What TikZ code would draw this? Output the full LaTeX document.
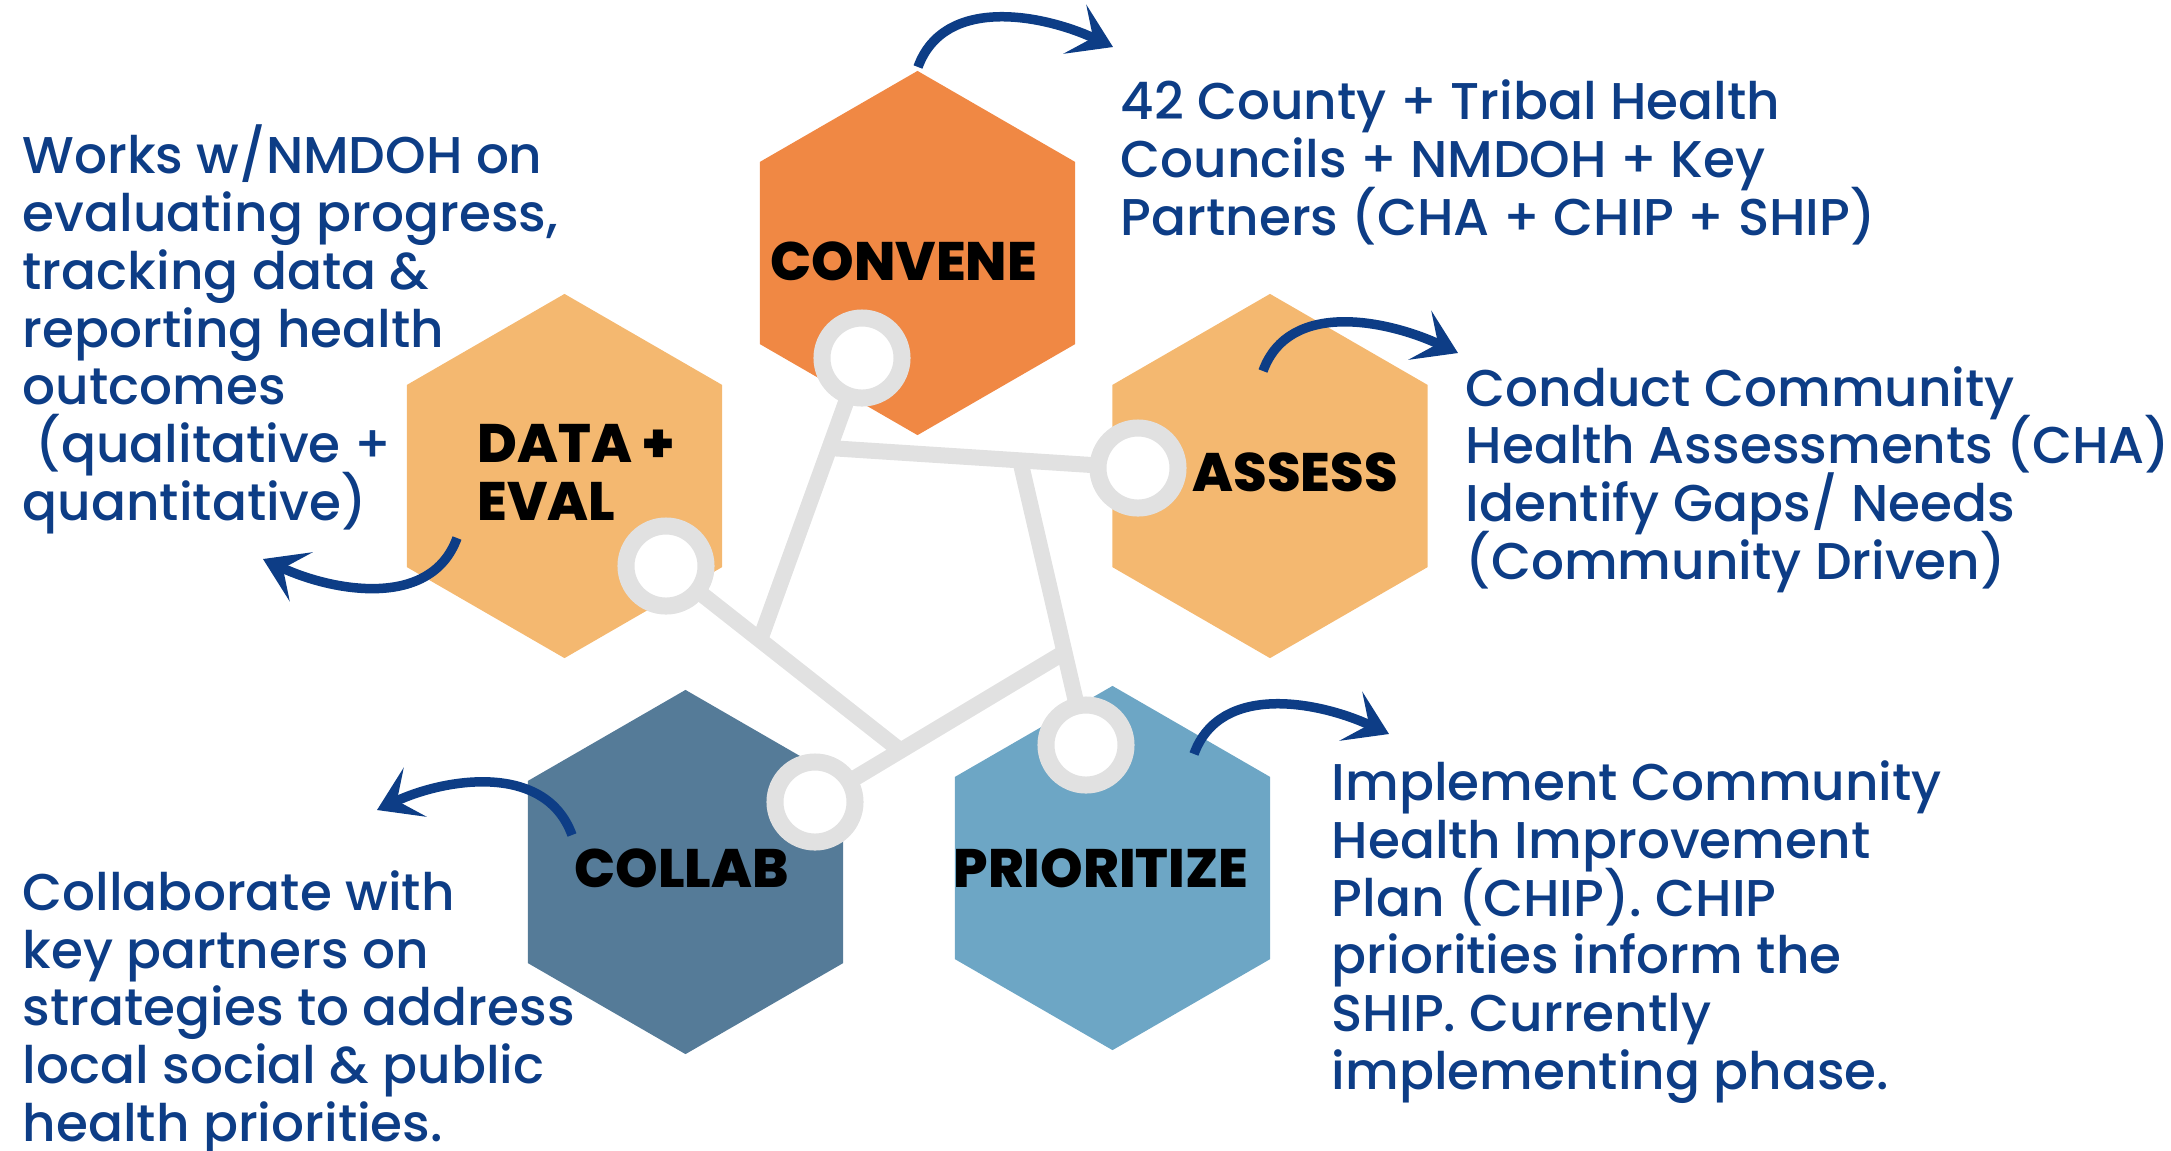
\documentclass[tikz,border=0pt]{standalone}
\usepackage{fontspec}
\setmainfont{Poppins}
\IfFontExistsTF{Poppins Medium}{\newfontfamily\txtfont{Poppins Medium}}{\newfontfamily\txtfont{Poppins}}
\IfFontExistsTF{Poppins ExtraBold}{\newfontfamily\hexfont{Poppins ExtraBold}}{\newcommand\hexfont{\bfseries}}
\usepackage{tikz}
\usetikzlibrary{arrows.meta,positioning,shapes.geometric}
\definecolor{navy}{HTML}{0D3D86}
\definecolor{convorange}{HTML}{F08844}
\definecolor{lightorange}{HTML}{F4B870}
\definecolor{collabblue}{HTML}{557B98}
\definecolor{prioblue}{HTML}{6DA6C5}
\definecolor{linkgray}{HTML}{E1E1E1}
\setlength{\lineskiplimit}{-20pt}

\begin{document}
\begin{tikzpicture}[x=0.01cm,y=0.01cm,
                    hex/.style={regular polygon,regular polygon sides=6,shape border rotate=30,
                                minimum size=3.64cm,inner sep=0pt,outer sep=0pt},
                    link/.style={draw=linkgray,line width=0.16cm},
                    ring/.style={circle,draw=linkgray,line width=0.17cm,fill=white,
                                 minimum size=0.8cm,inner sep=0pt},
                    lbl/.style={anchor=base west,align=left,inner sep=0pt,
                                font=\hexfont\fontsize{15.4}{16.4}\selectfont},
                    desc/.style={anchor=base west,align=left,inner sep=0pt,text=navy,
                                 font=\txtfont\fontsize{14.7}{16.4}\selectfont},
                    arr/.style={->,draw=navy,line width=0.095cm},
                    >={Stealth[length=0.42cm,width=0.54cm,inset=0.2cm]}]
  \useasboundingbox (0,0) rectangle (2171,-1150);
  % hexagons
  \node [hex,fill=convorange]  (convene) at (917.5,-253) {};
  \node [hex,fill=lightorange] (data)    at (564.5,-476) {};
  \node [hex,fill=lightorange] (assess)  at (1270,-476)  {};
  \node [hex,fill=collabblue]  (collab)  at (685.5,-872) {};
  \node [hex,fill=prioblue]    (prio)    at (1112.5,-868) {};
  % ring centres and joints
  \coordinate (convR) at (862,-358);
  \coordinate (dataR) at (666,-566);
  \coordinate (assR)  at (1138,-468);
  \coordinate (collR) at (815,-802);
  \coordinate (prioR) at (1086,-745);
  \coordinate (jA) at (760,-640);
  \coordinate (jB) at (901,-751);
  \coordinate (jC) at (829,-448);
  \coordinate (jD) at (1065,-652);
  \coordinate (jE) at (1020,-460);
  \draw [link] (convR) -- (jA);
  \draw [link] (dataR) -- (jB);
  \draw [link] (assR)  -- (jC);
  \draw [link] (collR) -- (jD);
  \draw [link] (prioR) -- (jE);
  \foreach \r in {convR,dataR,assR,collR,prioR}
    \node [ring] (\r ing) at (\r) {};
  % labels (placed at the baseline of the last line)
  \node [lbl] (convlbl)   at (770,-280)  {CONVENE};
  \node [lbl] (datalbl)   at (477,-520)  {DATA +\\EVAL};
  \node [lbl] (asslbl)    at (1192,-491) {ASSESS};
  \node [lbl] (collablbl) at (574,-887)  {COLLAB};
  \node [lbl] (priolbl)   at (953,-887)  {PRIORITIZE};
  % descriptions
  \node [desc] (convtxt) at (1120,-235)
        {42 County + Tribal Health\\Councils + NMDOH + Key\\Partners (CHA + CHIP + SHIP)};
  \node [desc] (datatxt) at (22,-520)
        {Works w/NMDOH on\\evaluating progress,\\tracking data \&\\reporting health\\outcomes\\\hspace*{.25em}(qualitative +\\quantitative)};
  \node [desc] (asstxt) at (1465,-579)
        {Conduct Community\\Health Assessments (CHA)\\Identify Gaps/ Needs\\(Community Driven)};
  \node [desc] (collabtxt) at (22,-1141)
        {Collaborate with\\key partners on\\strategies to address\\local social \& public\\health priorities.};
  \node [desc] (priotxt) at (1331,-1089)
        {Implement Community\\Health Improvement\\Plan (CHIP). CHIP\\priorities inform the\\SHIP. Currently\\implementing phase.};
  % arrows
  \coordinate (a1s) at (918,-67);   \coordinate (a1e) at (1113,-47);
  \coordinate (a2s) at (1263,-371); \coordinate (a2e) at (1458,-353);
  \coordinate (a3s) at (457,-538);  \coordinate (a3e) at (263,-559);
  \coordinate (a4s) at (572,-835);  \coordinate (a4e) at (377,-810);
  \coordinate (a5s) at (1194,-754); \coordinate (a5e) at (1389,-734);
  \draw [arr] (a1s) to [out=70,in=155]  (a1e);
  \draw [arr] (a2s) to [out=70,in=155]  (a2e);
  \draw [arr] (a3s) to [out=250,in=335] (a3e);
  \draw [arr] (a4s) to [out=110,in=25]  (a4e);
  \draw [arr] (a5s) to [out=70,in=155]  (a5e);
\end{tikzpicture}
\end{document}
